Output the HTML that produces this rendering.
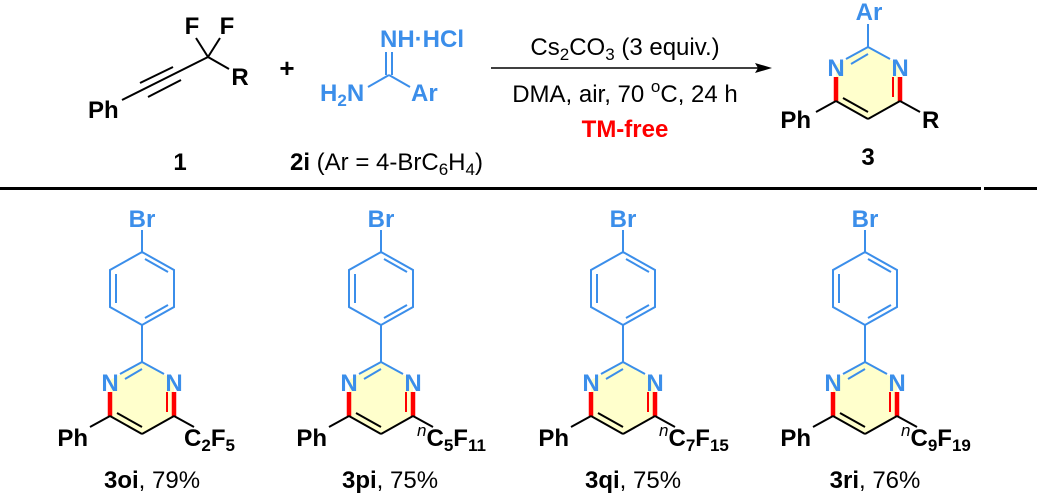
<!DOCTYPE html>
<html><head><meta charset="utf-8"><style>
html,body{margin:0;padding:0;background:#fff;}
svg{display:block;}
text{font-family:"Liberation Sans",Arial,sans-serif;}
.b{font-weight:bold;}
</style></head><body>
<svg width="1037" height="498" viewBox="0 0 1037 498" xmlns="http://www.w3.org/2000/svg">
<defs>
<g id="pyr">
  <polygon points="0,0 32,18 32,54 0,72 -32,54 -32,18" fill="#ffffcc"/>
  <line x1="0" y1="0" x2="-22" y2="12" stroke="#3b8eea" stroke-width="2"/>
  <line x1="0" y1="7" x2="-17" y2="17" stroke="#3b8eea" stroke-width="2"/>
  <line x1="0" y1="0" x2="22" y2="12" stroke="#3b8eea" stroke-width="2"/>
  <line x1="-32" y1="30" x2="-32" y2="54" stroke="#ff0000" stroke-width="4.5"/>
  <line x1="32" y1="30" x2="32" y2="54" stroke="#ff0000" stroke-width="4.5"/>
  <line x1="25" y1="30" x2="25" y2="50" stroke="#ff0000" stroke-width="2"/>
  <line x1="-32" y1="54" x2="0" y2="72" stroke="#000" stroke-width="2"/>
  <line x1="-25" y1="51" x2="0" y2="65" stroke="#000" stroke-width="2"/>
  <line x1="0" y1="72" x2="32" y2="54" stroke="#000" stroke-width="2"/>
  <line x1="-32" y1="54" x2="-52" y2="65" stroke="#000" stroke-width="2"/>
  <line x1="32" y1="54" x2="52" y2="65" stroke="#000" stroke-width="2"/>
  <text x="-32" y="29" text-anchor="middle" font-size="24" class="b" fill="#3b8eea">N</text>
  <text x="32" y="29" text-anchor="middle" font-size="24" class="b" fill="#3b8eea">N</text>
</g>
<g id="prod">
  <text x="0" y="227" text-anchor="middle" font-size="24" class="b" fill="#3b8eea">Br</text>
  <g stroke="#3b8eea" stroke-width="2" fill="none">
    <line x1="0" y1="230" x2="0" y2="252"/>
    <polygon points="0,252 32,270 32,307 0,325 -32,307 -32,270"/>
    <line x1="3" y1="259" x2="26" y2="272"/>
    <line x1="-26" y1="274" x2="-26" y2="303"/>
    <line x1="3" y1="318" x2="26" y2="305"/>
    <line x1="0" y1="325" x2="0" y2="362"/>
  </g>
  <use href="#pyr" y="362"/>
  <text x="-54" y="446" text-anchor="end" font-size="24" class="b">Ph</text>
</g>
</defs>

<!-- reactant 1 -->
<text x="88" y="118" font-size="24" class="b">Ph</text>
<g stroke="#000" stroke-width="2">
  <line x1="122" y1="100" x2="208" y2="57"/>
  <line x1="140" y1="83" x2="173" y2="67"/>
  <line x1="148" y1="97" x2="181" y2="80"/>
  <line x1="208" y1="57" x2="196" y2="38"/>
  <line x1="208" y1="57" x2="220" y2="38"/>
  <line x1="208" y1="57" x2="229" y2="69"/>
</g>
<text x="192" y="34" text-anchor="middle" font-size="24" class="b">F</text>
<text x="227" y="34" text-anchor="middle" font-size="24" class="b">F</text>
<text x="240" y="85" text-anchor="middle" font-size="24" class="b">R</text>
<text x="180" y="170" text-anchor="middle" font-size="24" class="b">1</text>
<text x="287" y="77" text-anchor="middle" font-size="26" class="b">+</text>

<!-- amidine -->
<text x="380" y="47" font-size="24" class="b" fill="#3b8eea">NH·HCl</text>
<g stroke="#3b8eea" stroke-width="2">
  <line x1="386" y1="52" x2="386" y2="75"/>
  <line x1="392" y1="52" x2="392" y2="75"/>
  <line x1="389" y1="75" x2="368" y2="87"/>
  <line x1="389" y1="75" x2="410" y2="87"/>
</g>
<text x="320" y="101" font-size="24" class="b" fill="#3b8eea">H<tspan font-size="17" dy="5">2</tspan><tspan dy="-5">N</tspan></text>
<text x="411" y="101" font-size="24" class="b" fill="#3b8eea">Ar</text>
<text x="290" y="170" font-size="24"><tspan class="b">2i</tspan> (Ar = 4-BrC<tspan font-size="17" dy="5">6</tspan><tspan dy="-5">H</tspan><tspan font-size="17" dy="5">4</tspan><tspan dy="-5">)</tspan></text>

<!-- arrow -->
<line x1="491" y1="68" x2="760" y2="68" stroke="#000" stroke-width="1.5"/>
<polygon points="772,68 755,63 758,68 755,73" fill="#000"/>
<text x="625" y="55" text-anchor="middle" font-size="24">Cs<tspan font-size="17" dy="5">2</tspan><tspan dy="-5">CO</tspan><tspan font-size="17" dy="5">3</tspan><tspan dy="-5"> (3 equiv.)</tspan></text>
<text x="625" y="102" text-anchor="middle" font-size="24">DMA, air, 70 <tspan font-size="17" dy="-10">o</tspan><tspan dy="10">C, 24 h</tspan></text>
<text x="625" y="137" text-anchor="middle" font-size="24" class="b" fill="#ff0000">TM-free</text>

<!-- product 3 -->
<text x="869" y="20" text-anchor="middle" font-size="24" class="b" fill="#3b8eea">Ar</text>
<line x1="868" y1="24" x2="868" y2="47" stroke="#3b8eea" stroke-width="2"/>
<use href="#pyr" x="868" y="47"/>
<text x="811" y="128" text-anchor="end" font-size="24" class="b">Ph</text>
<text x="922" y="128" font-size="24" class="b">R</text>
<text x="868" y="165" text-anchor="middle" font-size="24" class="b">3</text>

<!-- divider -->
<rect x="0" y="187" width="981" height="3" fill="#000"/>
<rect x="984" y="187" width="53" height="3" fill="#000"/>

<!-- products -->
<use href="#prod" x="142"/>
<text x="184" y="446" font-size="24" class="b">C<tspan font-size="17" dy="5">2</tspan><tspan dy="-5">F</tspan><tspan font-size="17" dy="5">5</tspan></text>
<text x="152" y="488" text-anchor="middle" font-size="24"><tspan class="b">3oi</tspan>, 79%</text>

<use href="#prod" x="381"/>
<text x="417" y="446" font-size="24" class="b"><tspan font-size="17" font-style="italic" font-weight="normal" dy="-10">n</tspan><tspan dy="10">C</tspan><tspan font-size="17" dy="5">5</tspan><tspan dy="-5">F</tspan><tspan font-size="17" dy="5">11</tspan></text>
<text x="390" y="488" text-anchor="middle" font-size="24"><tspan class="b">3pi</tspan>, 75%</text>

<use href="#prod" x="623"/>
<text x="659" y="446" font-size="24" class="b"><tspan font-size="17" font-style="italic" font-weight="normal" dy="-10">n</tspan><tspan dy="10">C</tspan><tspan font-size="17" dy="5">7</tspan><tspan dy="-5">F</tspan><tspan font-size="17" dy="5">15</tspan></text>
<text x="633" y="488" text-anchor="middle" font-size="24"><tspan class="b">3qi</tspan>, 75%</text>

<use href="#prod" x="865"/>
<text x="901" y="446" font-size="24" class="b"><tspan font-size="17" font-style="italic" font-weight="normal" dy="-10">n</tspan><tspan dy="10">C</tspan><tspan font-size="17" dy="5">9</tspan><tspan dy="-5">F</tspan><tspan font-size="17" dy="5">19</tspan></text>
<text x="875" y="488" text-anchor="middle" font-size="24"><tspan class="b">3ri</tspan>, 76%</text>
</svg>
</body></html>
